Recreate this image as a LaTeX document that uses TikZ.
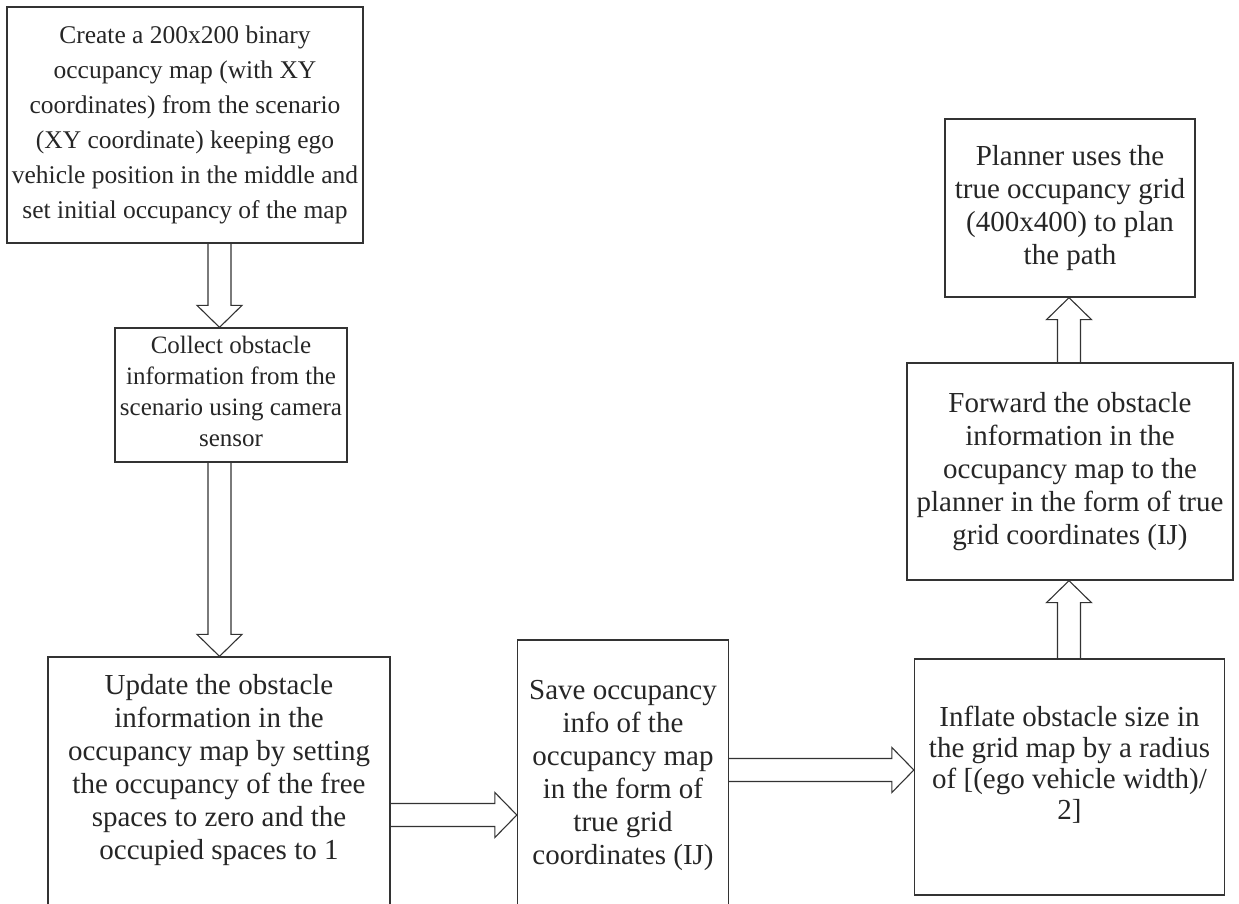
\documentclass[tikz,border=0pt]{standalone}
\usepackage{fontspec}
\setmainfont{Liberation Serif}
\usetikzlibrary{calc}

\tikzset{
  box/.style={draw=black!80, line width=1.3pt, inner sep=0pt},
  txt/.style={align=center, inner sep=0pt, text=black!85},
  big/.style={font=\fontsize{29}{33}\selectfont},
  small/.style={font=\fontsize{25.5}{35}\selectfont},
  flow/.style={draw=black!80, line width=1.1pt, line join=miter},
}

% hollow block arrow from #1 to the tip #2
\newcommand{\fatarrow}[2]{%
  \coordinate (fa-h) at ($(#2)!22pt!(#1)$);
  \draw[flow] ($(#1)!11.5pt!90:(#2)$) -- ($(fa-h)!11.5pt!-90:(#1)$)
    -- ($(fa-h)!22.5pt!-90:(#1)$) -- (#2) -- ($(fa-h)!22.5pt!90:(#1)$)
    -- ($(fa-h)!11.5pt!90:(#1)$) -- ($(#1)!11.5pt!-90:(#2)$);
}

\begin{document}
\begin{tikzpicture}[x=1pt,y=-1pt]
\useasboundingbox (0,0) rectangle (1239,903);
\clip (0,0) rectangle (1239,903);

% left column
\node[box, txt, small, minimum width=356pt, minimum height=236pt] (b1) at (185,125)
  {Create a 200x200 binary\\occupancy map (with XY\\coordinates) from the scenario\\(XY coordinate) keeping ego\\vehicle position in the middle and\\set initial occupancy of the map};
\node[box, minimum width=232pt, minimum height=134pt] (b2) at (231,395) {};
\node[txt, font=\fontsize{25}{31}\selectfont] (t2) at (231,391)
  {Collect obstacle\\information from the\\scenario using camera\\sensor};
\node[box, minimum width=342pt, minimum height=290pt] (b3) at (219,802) {};
\node[txt, big] (t3) at (219,770)
  {Update the obstacle\\information in the\\occupancy map by setting\\the occupancy of the free\\spaces to zero and the\\occupied spaces to 1};

% middle column
\node[box, minimum width=211pt, minimum height=300pt] (b4) at (623,790) {};
\node[txt, big] (t4) at (623,775)
  {Save occupancy\\info of the\\occupancy map\\in the form of\\true grid\\coordinates (IJ)};

% right column
\node[box, minimum width=310pt, minimum height=236pt] (b5) at (1069.5,777) {};
\node[txt, big, font=\fontsize{29}{31}\selectfont] (t5) at (1069.5,765)
  {Inflate obstacle size in\\the grid map by a radius\\of [(ego vehicle width)/\\2]};
\node[box, txt, big, minimum width=326pt, minimum height=217pt] (b6) at (1070,471.5)
  {Forward the obstacle\\information in the\\occupancy map to the\\planner in the form of true\\grid coordinates (IJ)};
\node[box, txt, big, minimum width=250pt, minimum height=178pt] (b7) at (1070,208)
  {Planner uses the\\true occupancy grid\\(400x400) to plan\\the path};

% arrow axes
\coordinate (ax1) at (219.5,0);
\coordinate (ax2) at (1069,0);
\coordinate (ay1) at (0,815);
\coordinate (ay2) at (0,770);

\fatarrow{b1.south -| ax1}{b2.north -| ax1}
\fatarrow{b2.south -| ax1}{b3.north -| ax1}
\fatarrow{b3.east |- ay1}{b4.west |- ay1}
\fatarrow{b4.east |- ay2}{b5.west |- ay2}
\fatarrow{b5.north -| ax2}{b6.south -| ax2}
\fatarrow{b6.north -| ax2}{b7.south -| ax2}
\end{tikzpicture}
\end{document}
